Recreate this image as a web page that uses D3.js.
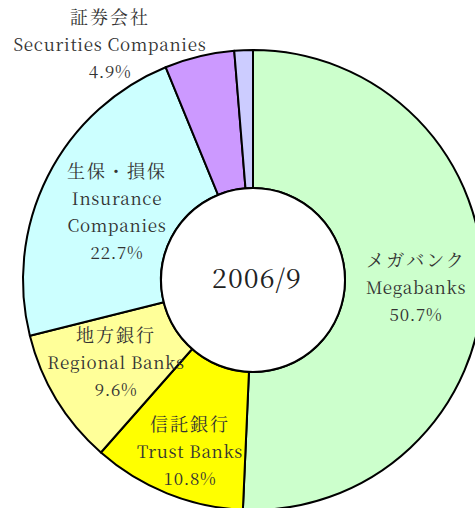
<!DOCTYPE html>
<html>
<head>
<meta charset="utf-8">
<script src="https://cdn.jsdelivr.net/npm/d3@7"></script>
<style>
  html, body { margin: 0; padding: 0; background: #fff; }
  svg { display: block; }
</style>
</head>
<body>
<svg id="chart" width="475" height="508"></svg>
<script>
// ---- data ----
const categoriesJa = ["メガバンク", "信託銀行", "地方銀行", "生保・損保", "証券会社", ""];
const categoriesEn = ["Megabanks", "Trust Banks", "Regional Banks", "Insurance\nCompanies", "Securities Companies", ""];
const shares = [50.7, 10.8, 9.6, 22.7, 4.9, 1.3];
const shareLabels = ["50.7%", "10.8%", "9.6%", "22.7%", "4.9%", ""];
const centerTitle = "2006/9";

// ---- styling / layout (not data) ----
const colors = ["#CCFFCC", "#FFFF00", "#FFFF99", "#CCFFFF", "#CC99FF", "#CCCCFF"];
const labelPos = [[416, 267], [190, 431], [116, 342], [117, 178], [110, 24], null];
const cx = 253, cy = 280, R = 230, r0 = 92;
const lineH = 27;
const fontLatin = "'Noto Serif CJK JP', 'Liberation Serif', serif";
const fontJa = "'Noto Serif CJK JP', 'Noto Sans CJK JP', serif";

const svg = d3.select("#chart");
const g = svg.append("g").attr("transform", `translate(${cx},${cy})`);

const pie = d3.pie().sort(null).value(d => d.v);
const arc = d3.arc().innerRadius(r0).outerRadius(R);
const data = shares.map((v, i) => ({ v, i }));
const arcs = pie(data);

g.selectAll("path.slice")
  .data(arcs)
  .enter().append("path")
  .attr("class", "slice")
  .attr("d", arc)
  .attr("fill", d => colors[d.data.i])
  .attr("stroke", "#000")
  .attr("stroke-width", 2)
  .attr("stroke-linejoin", "round");

g.append("circle").attr("r", r0).attr("fill", "#fff").attr("stroke", "#000").attr("stroke-width", 2);

svg.append("text")
  .attr("x", 257).attr("y", 288)
  .attr("text-anchor", "middle")
  .attr("font-family", fontLatin)
  .attr("font-size", 27)
  .attr("letter-spacing", 1)
  .attr("fill", "#222")
  .text(centerTitle);

arcs.forEach(a => {
  const i = a.data.i;
  const p = labelPos[i];
  if (!p) return;
  const lines = [];
  lines.push({ t: categoriesJa[i], ja: true });
  categoriesEn[i].split("\n").forEach(t => lines.push({ t, ja: false }));
  lines.push({ t: shareLabels[i], ja: false });
  const txt = svg.append("text")
    .attr("text-anchor", "middle")
    .attr("fill", "#333");
  lines.forEach((ln, k) => {
    txt.append("tspan")
      .attr("x", p[0])
      .attr("y", p[1] + k * lineH)
      .attr("font-family", ln.ja ? fontJa : fontLatin)
      .attr("font-size", ln.ja ? 18 : 17)
      .attr("letter-spacing", ln.ja ? 2 : 0.7)
      .text(ln.t);
  });
});
</script>
</body>
</html>
